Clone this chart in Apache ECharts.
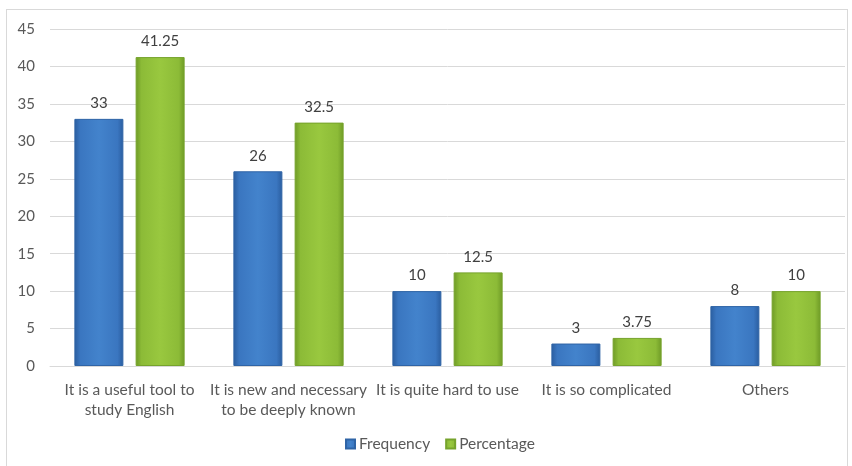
<!DOCTYPE html>
<html>
<head>
<meta charset="utf-8">
<script src="https://cdn.jsdelivr.net/npm/echarts@6/dist/echarts.min.js"></script>
<style>
  html, body { margin: 0; padding: 0; background: #fff; }
  #frame { position: absolute; left: 6px; top: 9px; width: 842px; height: 470px; border: 1px solid #d9d9d9; box-sizing: border-box; }
  #chart { width: 852px; height: 466px; position: absolute; left: 0; top: 0; }
</style>
</head>
<body>
<div id="frame"></div>
<div id="chart"></div>
<script>
const categories = [
  'It is a useful tool to\nstudy English',
  'It is new and necessary\nto be deeply known',
  'It is quite hard to use',
  'It is so complicated',
  'Others'
];
const frequency = [33, 26, 10, 3, 8];
const percentage = [41.25, 32.5, 12.5, 3.75, 10];
const yTicks = { min: 0, max: 45, step: 5 };

// horizontal gradient giving the bars a bevelled look
function bevel(dark, mid, light) {
  return new echarts.graphic.LinearGradient(0, 0, 1, 0, [
    { offset: 0, color: dark },
    { offset: 0.12, color: mid },
    { offset: 0.5, color: light },
    { offset: 0.88, color: mid },
    { offset: 1, color: dark }
  ]);
}

const FONT = 'Lato, "Open Sans", sans-serif';
const chart = echarts.init(document.getElementById('chart'), null, { renderer: 'canvas' });

chart.setOption({
  animation: false,
  backgroundColor: 'transparent',
  grid: { left: 50, right: 7, top: 29, bottom: 100, containLabel: false },
  legend: {
    top: 431,
    left: 340,
    itemWidth: 9,
    itemHeight: 9,
    itemGap: 15,
    icon: 'rect',
    textStyle: { color: '#595959', fontSize: 15.5, fontFamily: FONT, padding: [0, 0, 0, -1] },
    data: ['Frequency', 'Percentage']
  },
  xAxis: {
    type: 'category',
    data: categories,
    axisLine: { lineStyle: { color: '#d9d9d9', width: 1 } },
    axisTick: { show: false },
    axisLabel: { color: '#595959', fontSize: 15.5, fontFamily: FONT, margin: 14, lineHeight: 20, interval: 0 }
  },
  yAxis: {
    type: 'value',
    min: yTicks.min,
    max: yTicks.max,
    interval: yTicks.step,
    axisLine: { show: false },
    axisTick: { show: false },
    splitLine: { lineStyle: { color: '#d9d9d9', width: 1 } },
    axisLabel: { color: '#595959', fontSize: 15, fontFamily: FONT, margin: 15 }
  },
  series: [
    {
      name: 'Frequency',
      type: 'bar',
      data: frequency,
      barWidth: 49,
      barGap: '25%',
      itemStyle: {
        color: bevel('#2a5d9f', '#3a76c0', '#4383cc'),
        borderColor: '#2f64a6',
        borderWidth: 1
      },
      label: { show: true, position: 'top', distance: 8, color: '#404040', fontSize: 15, fontFamily: FONT }
    },
    {
      name: 'Percentage',
      type: 'bar',
      data: percentage,
      barWidth: 49,
      itemStyle: {
        color: bevel('#6e9a26', '#8cbb37', '#99c83f'),
        borderColor: '#76a32c',
        borderWidth: 1
      },
      label: { show: true, position: 'top', distance: 8, color: '#404040', fontSize: 15, fontFamily: FONT }
    }
  ]
});
</script>
</body>
</html>
